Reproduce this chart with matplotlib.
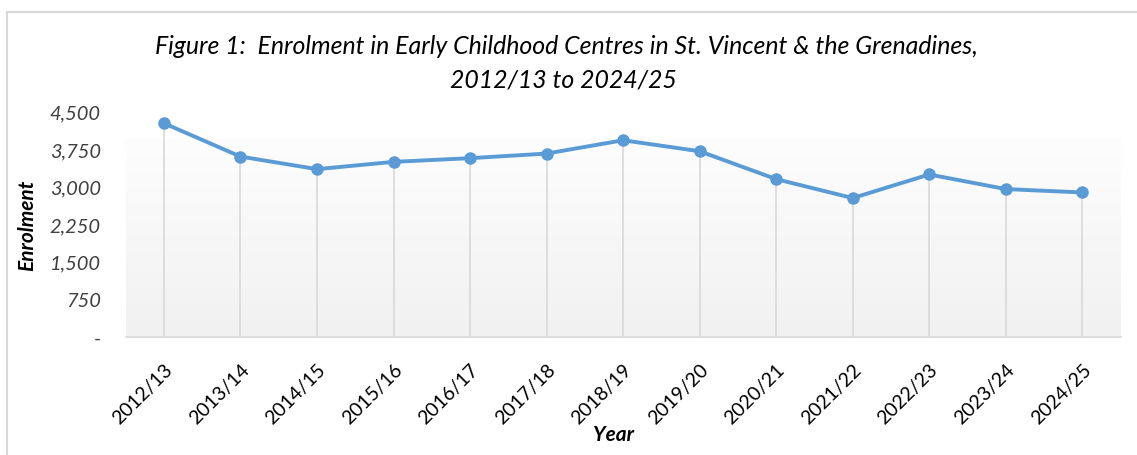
import matplotlib
matplotlib.use("Agg")
import matplotlib.pyplot as plt
import numpy as np
from matplotlib.lines import Line2D
from matplotlib.ticker import FuncFormatter
from matplotlib.colors import LinearSegmentedColormap

years = ["2012/13", "2013/14", "2014/15", "2015/16", "2016/17", "2017/18", "2018/19",
         "2019/20", "2020/21", "2021/22", "2022/23", "2023/24", "2024/25"]
enrolment = [4288, 3621, 3369, 3515, 3589, 3681, 3948, 3728, 3169, 2790, 3262, 2970, 2902]
y_ticks = [0, 750, 1500, 2250, 3000, 3750, 4500]

plt.rcParams['font.family'] = ['Lato', 'DejaVu Sans']

W, H = 1137, 455
fig = plt.figure(figsize=(W / 100, H / 100), dpi=100)
fig.patch.set_facecolor('white')

# chart border (left and top visible)
fig.add_artist(Line2D([7.3 / W, 7.3 / W], [0, 1 - 12 / H], transform=fig.transFigure,
                      color='#d9d9d9', lw=1.5))
fig.add_artist(Line2D([7.3 / W, 1], [1 - 12 / H, 1 - 12 / H], transform=fig.transFigure,
                      color='#d9d9d9', lw=1.5))

left, right = 125.7 / W, 1120.5 / W
bottom, top = (H - 337.3) / H, (H - 112.7) / H
ax = fig.add_axes([left, bottom, right - left, top - bottom])
ax.set_facecolor('none')

x = np.arange(len(years))
ax.set_xlim(-0.5, len(years) - 0.5)
ax.set_ylim(0, 4500)

# gradient plot-area background
grad_top = (337.3 - 140) / (337.3 - 112.7)
grad = np.linspace(0, 1, 256).reshape(-1, 1)
cmap = LinearSegmentedColormap.from_list('g', ['#f1f1f1', '#fdfdfd'])
ax.imshow(grad, cmap=cmap, aspect='auto', origin='lower',
          extent=[-0.5, len(years) - 0.5, 0, grad_top * 4500], zorder=0)

# drop lines
ax.vlines(x, 0, enrolment, colors='#d9d9d9', lw=1.2, zorder=1)
ax.plot(x, enrolment, color='#5b9bd5', lw=2.8, marker='o', markersize=8,
        markerfacecolor='#5b9bd5', markeredgecolor='#5b9bd5', zorder=3,
        solid_capstyle='round', solid_joinstyle='round')

for s in ['left', 'right', 'top']:
    ax.spines[s].set_visible(False)
ax.spines['bottom'].set_color('#d9d9d9')
ax.spines['bottom'].set_linewidth(1.2)

ax.set_yticks(y_ticks)
ax.yaxis.set_major_formatter(FuncFormatter(lambda v, p: '-' if v == 0 else f'{int(v):,}'))
ax.tick_params(axis='y', length=0, pad=18, labelsize=14.5, labelcolor='#404040')
for lbl in ax.get_yticklabels():
    lbl.set_fontstyle('italic')

ax.set_xticks(x)
ax.set_xticklabels(years, rotation=45, ha='right', va='top', rotation_mode='anchor')
ax.tick_params(axis='x', length=0, pad=17, labelsize=14, labelcolor='black')

fig.text(27 / W, 1 - 225 / H, 'Enrolment', rotation=90, ha='center', va='center',
         fontsize=15, fontstyle='italic', fontweight='bold', color='black')
fig.text(613 / W, 1 - 435 / H, 'Year', ha='center', va='center',
         fontsize=15, fontstyle='italic', fontweight='bold', color='black')

fig.text(566 / W, 1 - 46 / H, 'Figure 1:  Enrolment in Early Childhood Centres in St. Vincent & the Grenadines,',
         ha='center', va='center', fontsize=17.9, fontstyle='italic', color='black')
fig.text(563 / W, 1 - 80 / H, '2012/13 to 2024/25',
         ha='center', va='center', fontsize=17.9, fontstyle='italic', color='black')

fig.savefig('out.png', dpi=100, facecolor='white')
